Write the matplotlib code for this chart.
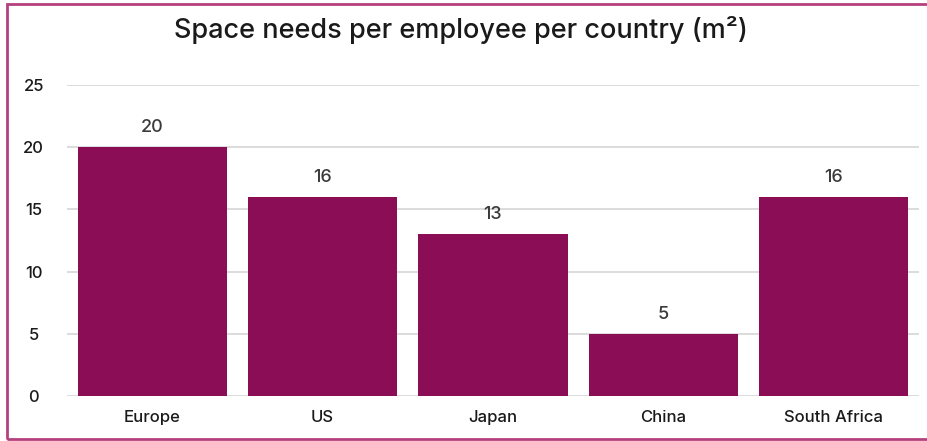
import matplotlib
matplotlib.use("Agg")
import matplotlib.pyplot as plt
from matplotlib.patches import Rectangle

categories = ["Europe", "US", "Japan", "China", "South Africa"]
values = [20, 16, 13, 5, 16]
yticks = [0, 5, 10, 15, 20, 25]

plt.rcParams['font.family'] = ['Inter', 'DejaVu Sans']

W, H = 927, 441
fig = plt.figure(figsize=(W / 100, H / 100), dpi=100)
ax = fig.add_axes([67 / W, 1 - 396 / H, (919 - 67) / W, (396 - 85) / H])

x = list(range(len(categories)))
bars = ax.bar(x, values, width=0.875, color="#8A0D55", zorder=3)
for xi, v in zip(x, values):
    ax.text(xi, v + 0.9, str(v), ha="center", va="bottom", fontsize=13,
            color="#3a3a3a", fontweight=500)

ax.set_xlim(-0.5, len(categories) - 0.5)
ax.set_ylim(0, 25)
ax.set_yticks(yticks)
ax.set_yticklabels([str(t) for t in yticks], fontsize=12, color="#1a1a1a", fontweight=500)
ax.set_xticks(x)
ax.set_xticklabels(categories, fontsize=12, color="#1a1a1a", fontweight=500)
ax.tick_params(axis="both", length=0)
ax.tick_params(axis="y", pad=24)
ax.tick_params(axis="x", pad=10)
ax.yaxis.grid(True, color="#d9d9d9", linewidth=1.3, zorder=0)
for s in ax.spines.values():
    s.set_visible(False)
for lbl in ax.get_yticklabels():
    lbl.set_horizontalalignment("center")

fig.text(461 / W, 1 - 30 / H, "Space needs per employee per country (m²)",
         ha="center", va="center", fontsize=19.5, color="#1a1a1a", fontweight=500)

fig.patches.append(Rectangle((7.5 / W, 1 - 438.5 / H), (W + 5) / W, (435) / H,
                             transform=fig.transFigure, fill=False,
                             edgecolor="#B5407F", linewidth=2, clip_on=False))

fig.savefig("out.png", dpi=100)
